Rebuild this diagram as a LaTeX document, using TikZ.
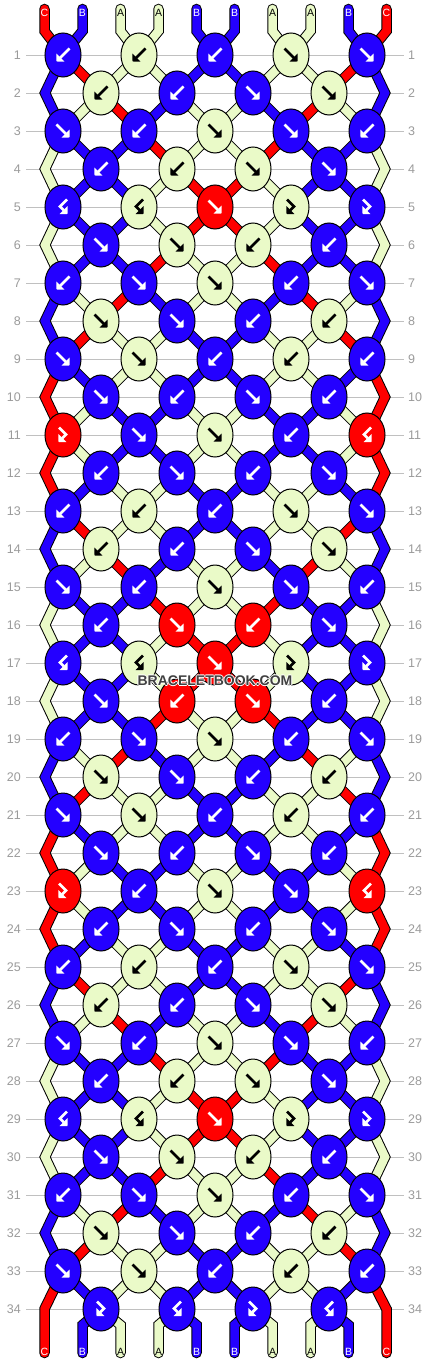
\documentclass[tikz,border=0pt]{standalone}
\usepackage{fontspec}
\setmainfont{Liberation Sans}
\usetikzlibrary{shapes.geometric,arrows.meta}

\definecolor{colA}{RGB}{234,250,200}
\definecolor{colB}{RGB}{36,0,255}
\definecolor{colC}{RGB}{255,0,0}
\definecolor{rulegray}{RGB}{192,192,192}
\definecolor{numgray}{RGB}{155,155,155}
\definecolor{wmgray}{RGB}{64,64,64}

\pgfdeclarelayer{grid}
\pgfdeclarelayer{strings}
\pgfsetlayers{grid,strings,main}

\tikzset{
  knot/.style={shape=ellipse, draw=black, line width=1pt, inner sep=0pt,
    minimum width=36pt, minimum height=44pt},
  glyph/.style={line width=2.8pt, -{Triangle[length=5.5pt,width=11pt]}},
  tone A/.style={color=black},
  tone B/.style={color=white},
  tone C/.style={color=white},
  strandedge/.style={draw=black, line width=10.5pt, line cap=round},
  strandfill/.style={draw=col#1, line width=8.5pt, line cap=round},
  endlabel/.style={inner sep=0pt, font=\fontsize{10.5}{10.5}\selectfont},
  rownum/.style={inner sep=0pt, text=numgray, font=\fontsize{12.5}{12.5}\selectfont},
  gridline/.style={draw=rulegray, line width=0.9pt},
}

% glyphs round the knot centre
\newcommand{\glyphf}{\draw (-6.5,-6.5) -- (6.5,6.5);}
\newcommand{\glyphb}{\draw (6.5,-6.5) -- (-6.5,6.5);}
\newcommand{\glyphp}{\draw (-4,-7.5) -- (3,-0.5) -- (-4.5,7);}
\newcommand{\glyphq}{\draw (4,-7.5) -- (-3,-0.5) -- (4.5,7);}

% colour, type, name, x, y
\newcommand{\knot}[5]{%
  \node[knot, fill=col#1] (#3) at (#4,#5) {};
  \begin{scope}[shift={(#4,#5)}, glyph, tone #1]
    \csname glyph#2\endcsname
  \end{scope}}

\newcommand{\strandpath}[2]{\draw[strandedge] #2; \draw[strandfill=#1] #2;}

% row, position, colour
\newcommand{\strand}[3]{%
  \pgfmathtruncatemacro\rn{#1+1}%
  \pgfmathtruncatemacro\rnn{#1+2}%
  \pgfmathtruncatemacro\ia{#2/2}%
  \pgfmathtruncatemacro\ib{(#2-1)/2}%
  \pgfmathsetmacro\sx{44.5+38*#2}%
  \pgfmathsetmacro\ey{55+38*#1}%
  \ifnum#1=0
    \coordinate (top#2) at (\sx,9);
    \strandpath{#3}{(top#2) -- (\sx,31) -- (k1-\ia.center)}
    \node[endlabel, tone #3] (lt#2) at (\sx,12.5) {#3};
  \else\ifnum#1=34
    \ifnum#2=0 \else\ifnum#2=9 \else
      \coordinate (bot#2) at (\sx,1353);
      \strandpath{#3}{(k34-\ib.center) -- (\sx,1325) -- (bot#2)}
      \node[endlabel, tone #3] (lb#2) at (\sx,1351.5) {#3};
    \fi\fi
  \else\ifodd#1\relax
    \ifnum#2=0
      \ifnum#1=33
        \coordinate (bot0) at (\sx,1353);
        \strandpath{#3}{(k33-0.center) -- (\sx,1309) -- (bot0)}
        \node[endlabel, tone #3] (lb0) at (\sx,1351.5) {#3};
      \else
        \coordinate (el\rn) at (45,\ey);
        \strandpath{#3}{(k#1-0.center) -- (el\rn) -- (k\rnn-0.center)}
      \fi
    \else\ifnum#2=9
      \ifnum#1=33
        \coordinate (bot9) at (\sx,1353);
        \strandpath{#3}{(k33-4.center) -- (\sx,1309) -- (bot9)}
        \node[endlabel, tone #3] (lb9) at (\sx,1351.5) {#3};
      \else
        \coordinate (er\rn) at (385,\ey);
        \strandpath{#3}{(k#1-4.center) -- (er\rn) -- (k\rnn-4.center)}
      \fi
    \else
      \strandpath{#3}{(k#1-\ia.center) -- (k\rn-\ib.center)}
    \fi\fi
  \else
    \ifnum#2=0 \else\ifnum#2=9 \else
      \strandpath{#3}{(k#1-\ib.center) -- (k\rn-\ia.center)}
    \fi\fi
  \fi\fi\fi}

\newcommand{\haloed}[1]{%
  \rlap{\hspace{-1pt}\textcolor{white}{#1}}\rlap{\hspace{1pt}\textcolor{white}{#1}}%
  \rlap{\raisebox{1pt}{\textcolor{white}{#1}}}\rlap{\raisebox{-1pt}{\textcolor{white}{#1}}}%
  #1}

\begin{document}
\begin{tikzpicture}[x=1pt, y=-1pt]
  \useasboundingbox (0,0) rectangle (430,1364);

  % knots
  \foreach \ks [count=\r] in {
    {Bb,Ab,Bb,Af,Bf},% 1
    {Ab,Bb,Bf,Af},
    {Bf,Bb,Af,Bf,Bb},
    {Bb,Ab,Af,Bf},
    {Bq,Aq,Cf,Ap,Bp},% 5
    {Bf,Af,Ab,Bb},
    {Bb,Bf,Af,Bb,Bf},
    {Af,Bf,Bb,Ab},
    {Bf,Af,Bb,Ab,Bb},
    {Bf,Bb,Bf,Bb},% 10
    {Cp,Bf,Af,Bb,Cq},
    {Bb,Bf,Bb,Bf},
    {Bb,Ab,Bb,Af,Bf},
    {Ab,Bb,Bf,Af},
    {Bf,Bb,Af,Bf,Bb},% 15
    {Bb,Cf,Cb,Bf},
    {Bq,Aq,Cf,Ap,Bp},
    {Bf,Cb,Cf,Bb},
    {Bb,Bf,Af,Bb,Bf},
    {Af,Bf,Bb,Ab},% 20
    {Bf,Af,Bb,Ab,Bb},
    {Bf,Bb,Bf,Bb},
    {Cp,Bb,Af,Bf,Cq},
    {Bb,Bf,Bb,Bf},
    {Bb,Ab,Bb,Af,Bf},% 25
    {Ab,Bb,Bf,Af},
    {Bf,Bb,Af,Bf,Bb},
    {Bb,Ab,Af,Bf},
    {Bq,Aq,Cf,Ap,Bp},
    {Bf,Af,Ab,Bb},% 30
    {Bb,Bf,Af,Bb,Bf},
    {Af,Bf,Bb,Ab},
    {Bf,Af,Bb,Ab,Bb},
    {Bp,Bq,Bp,Bq}% 34
  }{
    \foreach \k [count=\i from 0] in \ks {
      \ifodd\r\relax \pgfmathsetmacro\kx{63+76*\i}\else \pgfmathsetmacro\kx{101+76*\i}\fi
      \pgfmathsetmacro\ky{17+38*\r}
      \expandafter\knot\k{k\r-\i}{\kx}{\ky}
    }
  }

  % strings, colour of each position below each row
  \begin{pgfonlayer}{strings}
  \foreach \st [count=\r from 0] in {
    {C,B,A,A,B,B,A,A,B,C},% top
    {B,C,A,A,B,B,A,A,C,B},
    {B,A,C,B,A,A,B,C,A,B},
    {A,B,B,C,A,A,C,B,B,A},
    {A,B,B,A,C,C,A,B,B,A},
    {A,B,B,A,C,C,A,B,B,A},% 5
    {A,B,B,C,A,A,C,B,B,A},
    {B,A,C,B,A,A,B,C,A,B},
    {B,C,A,A,B,B,A,A,C,B},
    {C,B,A,A,B,B,A,A,B,C},
    {C,A,B,B,A,A,B,B,A,C},% 10
    {C,A,B,B,A,A,B,B,A,C},
    {C,B,A,A,B,B,A,A,B,C},
    {B,C,A,A,B,B,A,A,C,B},
    {B,A,C,B,A,A,B,C,A,B},
    {A,B,B,C,A,A,C,B,B,A},% 15
    {A,B,B,A,C,C,A,B,B,A},
    {A,B,B,A,C,C,A,B,B,A},
    {A,B,B,C,A,A,C,B,B,A},
    {B,A,C,B,A,A,B,C,A,B},
    {B,C,A,A,B,B,A,A,C,B},% 20
    {C,B,A,A,B,B,A,A,B,C},
    {C,A,B,B,A,A,B,B,A,C},
    {C,A,B,B,A,A,B,B,A,C},
    {C,B,A,A,B,B,A,A,B,C},
    {B,C,A,A,B,B,A,A,C,B},% 25
    {B,A,C,B,A,A,B,C,A,B},
    {A,B,B,C,A,A,C,B,B,A},
    {A,B,B,A,C,C,A,B,B,A},
    {A,B,B,A,C,C,A,B,B,A},
    {A,B,B,C,A,A,C,B,B,A},% 30
    {B,A,C,B,A,A,B,C,A,B},
    {B,C,A,A,B,B,A,A,C,B},
    {C,B,A,A,B,B,A,A,B,C},
    {C,B,A,A,B,B,A,A,B,C}% 34
  }{
    \foreach \c [count=\p from 0] in \st {
      \edef\next{\noexpand\strand{\r}{\p}{\c}}\next
    }
  }
  \end{pgfonlayer}

  % row numbers and rules
  \begin{pgfonlayer}{grid}
    \fill[white] (0,0) rectangle (430,1364);
    \foreach \r in {1,...,34} {
      \node[rownum, anchor=east] (nl\r) at (21,{17+38*\r}) {\r};
      \node[rownum, anchor=west] (nr\r) at (408,{17+38*\r}) {\r};
      \draw[gridline, shorten <=5pt, shorten >=4pt] (nl\r.east) -- (nr\r.west);
    }
  \end{pgfonlayer}

  \node[text=wmgray, font=\bfseries\fontsize{14}{14}\selectfont, inner sep=0pt] (brand) at (215,681) {\haloed{BRACELETBOOK.COM}};
\end{tikzpicture}
\end{document}
